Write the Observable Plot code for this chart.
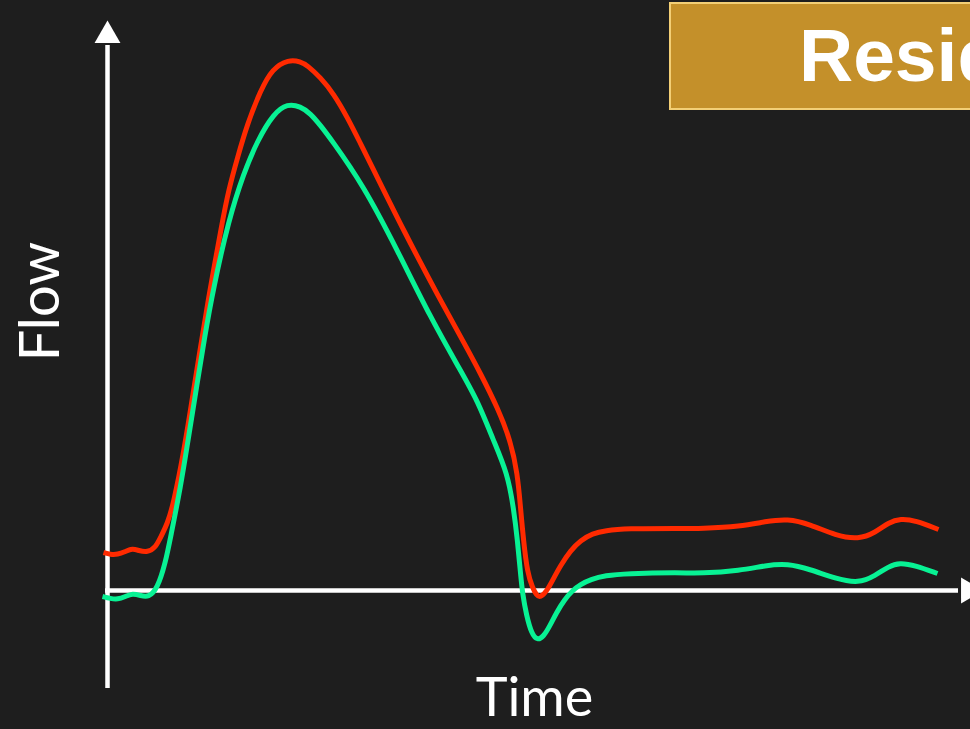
<!DOCTYPE html>
<html>
<head>
<meta charset="utf-8">
<script src="https://cdn.jsdelivr.net/npm/d3@7"></script>
<script src="https://cdn.jsdelivr.net/npm/@observablehq/plot@0.6"></script>
<style>
  html, body { margin: 0; padding: 0; background: #1e1e1e; }
  #wrap { position: relative; width: 970px; height: 729px; overflow: hidden; background: #1e1e1e; }
  #badge {
    position: absolute; left: 669px; top: 2px; width: 420px; height: 104px;
    background: #c4902a; border: 2px solid #f3cf76;
    font-family: "Liberation Sans", Arial, sans-serif; font-weight: bold;
    font-size: 75px; color: #ffffff; line-height: 104px; white-space: nowrap;
    box-sizing: content-box;
  }
  #badge span { position: absolute; left: 128px; top: -1px; }
</style>
</head>
<body>
<div id="wrap">
  <div id="chart"></div>
  <div id="badge"><span>Residual</span></div>
</div>
<script>
// Time (arbitrary units) and flow (arbitrary units)
const redTime = [-4, 3, 10, 18, 25, 31, 40, 48, 53, 60, 66, 76, 84, 92, 100, 115, 121, 130, 140, 153, 165, 181, 193, 200, 213, 226, 240, 253, 263, 296, 333, 358, 373, 390, 403, 410, 413, 416, 420, 425, 429, 433, 439, 445, 453, 463, 473, 485, 498, 518, 573, 593, 633, 658, 680, 703, 728, 751, 768, 781, 793, 808, 831];
const redFlow = [38, 36, 36, 39, 42, 40, 38, 43, 53, 67, 87, 137, 187, 237, 287, 370, 400, 433, 467, 500, 522, 531, 529, 525, 513, 497, 473, 447, 427, 360, 290, 245, 217, 183, 150, 117, 83, 50, 17, 3, -5, -7, -1, 10, 25, 40, 50, 57, 60, 62, 62, 62, 64, 69, 72, 66, 55, 51, 58, 68, 72, 70, 61];

const greenTime = [-5, 3, 10, 18, 25, 33, 41, 50, 58, 63, 73, 81, 89, 97, 106, 121, 136, 150, 166, 180, 193, 203, 213, 223, 256, 290, 323, 353, 370, 386, 400, 406, 410, 413, 415, 419, 424, 430, 436, 442, 449, 457, 465, 473, 483, 498, 518, 573, 593, 633, 658, 680, 703, 728, 751, 768, 781, 792, 808, 830];
const greenFlow = [-6, -8, -9, -6, -3, -5, -7, 2, 28, 53, 103, 153, 203, 253, 303, 370, 417, 450, 477, 487, 484, 477, 465, 452, 405, 340, 273, 220, 190, 150, 117, 83, 50, 17, -3, -25, -43, -50, -46, -36, -22, -9, 0, 6, 11, 15, 17, 18, 17, 20, 25, 27, 21, 12, 7, 15, 24, 28, 25, 17];

const seriesNames = ["total", "residual"];
const seriesColors = ["#ff2a00", "#08f294"];
const rows = [
  ...redTime.map((t, i) => ({series: seriesNames[0], time: t, flow: redFlow[i]})),
  ...greenTime.map((t, i) => ({series: seriesNames[1], time: t, flow: greenFlow[i]}))
];

// axis geometry (data units)
const timeDomain = [-107, 863];
const flowDomain = [-139, 590];
const axisTop = 555;      // where the vertical axis arrow sits
const axisBottom = -98;
const axisRight = 861;    // where the horizontal axis arrow sits
const xLabel = {text: "Time", time: 427, flow: -108};
const yLabel = {text: "Flow", time: -66, flow: 289};

const chart = Plot.plot({
  width: 970,
  height: 729,
  margin: 0,
  style: {background: "#1e1e1e", color: "#ffffff"},
  x: {domain: timeDomain, axis: null},
  y: {domain: flowDomain, axis: null},
  color: {domain: seriesNames, range: seriesColors},
  marks: [
    Plot.ruleX([0], {y1: axisBottom, y2: axisTop - 10, stroke: "#ffffff", strokeWidth: 4.5}),
    Plot.ruleY([0], {x1: -2, x2: axisRight - 10, stroke: "#ffffff", strokeWidth: 4.5}),
    Plot.dot([{time: 0, flow: axisTop}], {x: "time", y: "flow", symbol: "triangle", r: 9.6, fill: "#ffffff", stroke: "none"}),
    Plot.dot([{time: axisRight, flow: 0}], {x: "time", y: "flow", symbol: "triangle", r: 9.6, rotate: 90, fill: "#ffffff", stroke: "none"}),
    Plot.line(rows, {x: "time", y: "flow", z: "series", stroke: "series", strokeWidth: 5, curve: "basis", strokeLinecap: "butt"}),
    Plot.text([xLabel], {x: "time", y: "flow", text: "text", fontSize: 54, fontFamily: "Lato, 'Open Sans', sans-serif", fill: "#ffffff", lineAnchor: "middle"}),
    Plot.text([yLabel], {x: "time", y: "flow", text: "text", rotate: -90, fontSize: 56, fontFamily: "Lato, 'Open Sans', sans-serif", fill: "#ffffff", lineAnchor: "middle"})
  ]
});
document.getElementById("chart").appendChild(chart);
</script>
</body>
</html>
